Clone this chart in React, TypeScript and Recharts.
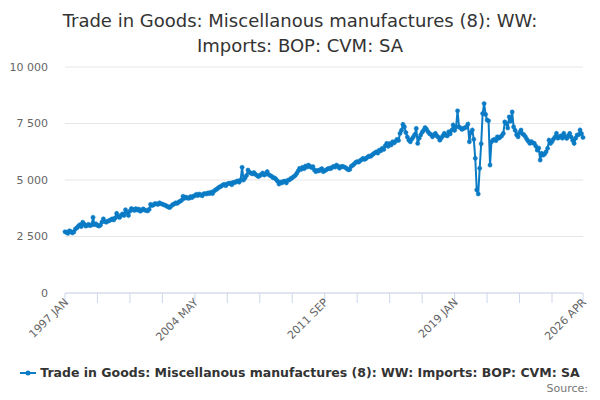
import React from "react";
import { CartesianGrid, Line, LineChart, XAxis, YAxis } from "recharts";

// monthly values, 1997 JAN .. 2026 APR
const values = [
  // 1997
  2710, 2680, 2640, 2750, 2720, 2660, 2700, 2830, 2880, 2950, 3020, 2940,
  // 1998
  3130, 3050, 2960, 2990, 3040, 2980, 3010, 3350, 3020, 3060, 2990, 2960,
  // 1999
  3000, 3140, 3280, 3160, 3130, 3180, 3200, 3240, 3280, 3230, 3320, 3520,
  // 2000
  3380, 3340, 3440, 3500, 3430, 3680, 3560, 3430, 3620, 3740, 3700, 3650,
  // 2001
  3730, 3670, 3710, 3620, 3660, 3720, 3670, 3650, 3630, 3700, 3920, 3870,
  // 2002
  3900, 3960, 3940, 3920, 3990, 3950, 3930, 3900, 3880, 3840, 3800, 3780,
  // 2003
  3850, 3910, 3940, 3990, 3960, 4020, 4060, 4100, 4280, 4190, 4240, 4200,
  // 2004
  4190, 4260, 4220, 4290, 4300, 4370, 4310, 4380, 4340, 4300, 4390, 4400,
  // 2005
  4380, 4430, 4400, 4460, 4400, 4510, 4560, 4600, 4660, 4700, 4730, 4780,
  // 2006
  4810, 4750, 4830, 4850, 4860, 4790, 4900, 4880, 4930, 4960, 4900, 5000,
  // 2007
  5560, 5000, 5090, 5200, 5440, 5340, 5300, 5270, 5330, 5250, 5210, 5150,
  // 2008
  5190, 5250, 5310, 5220, 5260, 5370, 5240, 5200, 5160, 5100, 5090, 5030,
  // 2009
  4950, 4820, 4910, 4870, 4940, 4950, 4870, 4990, 5000, 5060, 5100, 5150,
  // 2010
  5200, 5290, 5400, 5520, 5470, 5560, 5500, 5620, 5570, 5660, 5600, 5550,
  // 2011
  5590, 5440, 5370, 5430, 5400, 5460, 5500, 5370, 5410, 5450, 5490, 5520,
  // 2012
  5500, 5560, 5600, 5570, 5660, 5600, 5520, 5590, 5600, 5580, 5550, 5500,
  // 2013
  5450, 5470, 5610, 5650, 5710, 5780, 5810, 5790, 5860, 5900, 5960, 5910,
  // 2014
  5950, 6010, 6060, 6040, 6100, 6160, 6200, 6250, 6190, 6320, 6290, 6400,
  // 2015
  6350, 6510, 6620, 6490, 6610, 6550, 6690, 6640, 6710, 6800, 6750, 7060,
  // 2016
  7200, 7460, 7350, 7100, 6900, 6760, 6690, 6810, 6900, 7010, 7280, 6620,
  // 2017
  6850, 6990, 7110, 7200, 7320, 7240, 7130, 7050, 7010, 6910, 7000, 7060,
  // 2018
  6950, 6890, 6760, 6860, 6950, 7060, 6990, 6950, 7130, 7040, 7200, 7430,
  // 2019
  7200, 7350, 8060, 7350, 7300, 7240, 7280, 7310, 7350, 7470, 6690, 7100,
  // 2020
  7210, 6800, 5960, 4560, 4380, 5520, 6600, 7940, 8380, 7900, 7650, 7620,
  // 2021
  5660, 6690, 6760, 6800, 6740, 6910, 6850, 6900, 6960, 7060, 7570, 7500,
  // 2022
  7300, 7790, 7600, 8010, 7350, 7200, 7000, 6910, 7100, 7210, 7040, 7000,
  // 2023
  6910, 6800, 6710, 6620, 6700, 6640, 6620, 6500, 6320, 6410, 5880, 6180,
  // 2024
  6100, 6150, 6250, 6400, 6760, 6620, 6700, 6810, 6900, 7060, 6850, 6910,
  // 2025
  6950, 6850, 7060, 6900, 6840, 6950, 7060, 6900, 6750, 6620, 6850, 6990,
  // 2026
  7000, 7210, 7050, 6880,
];

const minorTicks = [0, 22, 44, 66, 88, 110, 132, 154, 176, 198, 220, 242, 264, 286, 308, 330, 351];
const majorTicks = [0, 88, 176, 264, 351];
const majorLabels = ["1997 JAN", "2004 MAY", "2011 SEP", "2019 JAN", "2026 APR"];
const yTicks = [0, 2500, 5000, 7500, 10000];

const seriesName = "Trade in Goods: Miscellanous manufactures (8): WW: Imports: BOP: CVM: SA";
const titleLines = ["Trade in Goods: Miscellanous manufactures (8): WW:", "Imports: BOP: CVM: SA"];

const data = values.map((v, i) => ({ i, value: v }));

const blue = "#0a7bc4";
const font = "DejaVu Sans, sans-serif";

const fmt = (v: number) => String(v).replace(/\B(?=(\d{3})+(?!\d))/g, " ");

const XTick = (props: any) => {
  const { x, y, payload } = props;
  const k = majorTicks.indexOf(payload.value);
  if (k < 0) return <g />;
  return (
    <text
      x={x + 4}
      y={y}
      transform={`rotate(-45 ${x + 4} ${y})`}
      textAnchor="end"
      fontSize={11}
      fill="#666"
      fontFamily={font}
    >
      {majorLabels[k]}
    </text>
  );
};

export default function App() {
  return (
    <div style={{ position: "absolute", left: 0, top: 0, width: 600, height: 400, fontFamily: font }}>
      <div
        style={{
          position: "absolute",
          top: 8,
          left: 0,
          width: 600,
          textAlign: "center",
          fontSize: 18,
          lineHeight: "25px",
          color: "#333",
        }}
      >
        {titleLines.map((t) => (
          <div key={t}>{t}</div>
        ))}
      </div>
      <LineChart
        width={600}
        height={400}
        data={data}
        margin={{ top: 67, right: 17, left: 15, bottom: 47 }}
      >
        <CartesianGrid vertical={false} stroke="#e6e6e6" />
        <XAxis
          dataKey="i"
          type="number"
          domain={[0, 351]}
          ticks={minorTicks}
          interval={0}
          height={60}
          stroke="#ccd6eb"
          tickSize={10}
          tickMargin={0}
          tick={<XTick />}
        />
        <YAxis
          domain={[0, 10000]}
          ticks={yTicks}
          width={50}
          axisLine={false}
          tickLine={false}
          tickSize={0}
          tickMargin={17}
          tickFormatter={fmt}
          tick={{ fontSize: 11, fill: "#666", fontFamily: font }}
        />
        <Line
          dataKey="value"
          stroke={blue}
          strokeWidth={2}
          dot={{ r: 2.1, fill: blue, stroke: blue, strokeWidth: 0.5 }}
          isAnimationActive={false}
        />
      </LineChart>
      <div
        style={{
          position: "absolute",
          top: 365,
          left: 0,
          width: 600,
          display: "flex",
          justifyContent: "center",
          alignItems: "center",
          fontSize: 12.5,
          fontWeight: "bold",
          color: "#333",
        }}
      >
        <svg width={16} height={10} style={{ marginRight: 4 }}>
          <line x1={0} y1={5} x2={16} y2={5} stroke={blue} strokeWidth={2} />
          <circle cx={8} cy={5} r={2.5} fill={blue} />
        </svg>
        <span>{seriesName}</span>
      </div>
      <div style={{ position: "absolute", top: 382, right: 12, fontSize: 11, color: "#777" }}>Source:</div>
    </div>
  );
}
